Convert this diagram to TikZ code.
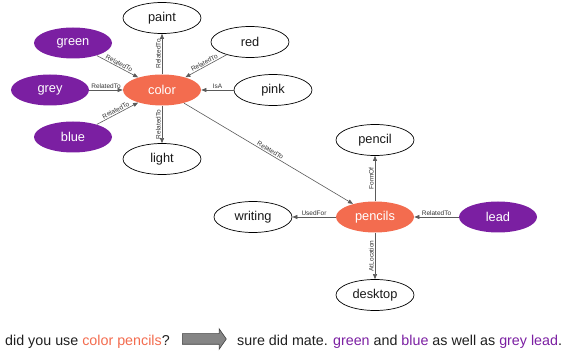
\documentclass[tikz,border=0pt]{standalone}
\usepackage{fontspec}
\setmainfont{Liberation Sans}
\usetikzlibrary{arrows.meta,shapes.geometric,shapes.arrows}
\definecolor{hub}{HTML}{F36C4F}
\definecolor{hint}{HTML}{7B1FA2}
\definecolor{edgegray}{HTML}{5A5A5A}
\definecolor{labelgray}{HTML}{333333}
\tikzset{
  concept/.style={ellipse, draw=black, line width=0.7pt, minimum width=78pt, minimum height=31pt,
    inner sep=0pt, font=\fontsize{12.8}{14}\selectfont, text=black!90},
  hubnode/.style={concept, draw=none, fill=hub, text=white},
  hintnode/.style={concept, draw=none, fill=hint, text=white},
  rel/.style={draw=edgegray, line width=0.6pt, -{Triangle[length=5pt,width=4pt]}},
  labelfont/.style={inner sep=1pt, text=labelgray, font=\fontsize{6.5}{7}\selectfont},
  rellabel/.style={labelfont, midway, sloped, above},
  % labels of vertical relations: read upwards, left of the line
  uplabel/.style={labelfont, midway, rotate=90, anchor=south},
  say/.style={anchor=base west, inner sep=0pt, text=black!88, font=\fontsize{14.3}{16}\selectfont}
}
\begin{document}
\begin{tikzpicture}[x=1pt,y=1pt]
\useasboundingbox (0,0) rectangle (562,-352);

% first cluster around "color"
\node[hubnode]  (color)   at (162,-90)  {color};
\node[concept]  (paint)   at (162,-18)  {paint};
\node[concept]  (red)     at (250,-42)  {red};
\node[concept]  (pink)    at (273,-90)  {pink};
\node[concept]  (light)   at (162,-159) {light};
\node[hintnode] (green)   at (73,-43)   {green};
\node[hintnode] (grey)    at (50,-90)   {grey};
\node[hintnode] (blue)    at (73,-137)  {blue};

% second cluster around "pencils"
\node[hubnode]  (pencils) at (375,-217) {pencils};
\node[concept]  (pencil)  at (375,-140) {pencil};
\node[concept]  (writing) at (253,-217) {writing};
\node[concept]  (desktop) at (375,-295) {desktop};
\node[hintnode] (lead)    at (498,-217) {lead};

% relations
\draw[rel] (green) -- (color) node[rellabel] {RelatedTo};
\draw[rel] (grey)  -- (color) node[rellabel] {RelatedTo};
\draw[rel] (blue)  -- (color) node[rellabel] {RelatedTo};
\draw[rel] (color) -- (paint) node[uplabel] {RelatedTo};
\draw[rel] (red)   -- (color) node[rellabel] {RelatedTo};
\draw[rel] (pink)  -- (color) node[rellabel] {IsA};
\draw[rel] (color) -- (light) node[uplabel] {RelatedTo};
\draw[rel] (color) -- (pencils) node[rellabel] {RelatedTo};
\draw[rel] (pencils) -- (pencil)  node[uplabel] {FormOf};
\draw[rel] (pencils) -- (writing) node[rellabel] {UsedFor};
\draw[rel] (lead)    -- (pencils) node[rellabel] {RelatedTo};
\draw[rel] (pencils) -- (desktop) node[uplabel] {AtLocation};

% question and answer line
\node[say] (question) at (5,-345)
  {did you use \textcolor{hub}{color pencils}?};
\node[single arrow, draw=black!75, fill=black!48, line width=0.6pt,
      minimum height=44pt, inner sep=5pt, single arrow head extend=5pt,
      single arrow tip angle=110, anchor=west] (then) at (182,-339) {};
\node[say] (answer) at (237,-345)
  {sure did mate. \textcolor{hint}{green} and \textcolor{hint}{blue} as well as \textcolor{hint}{grey lead}.};
\end{tikzpicture}
\end{document}
